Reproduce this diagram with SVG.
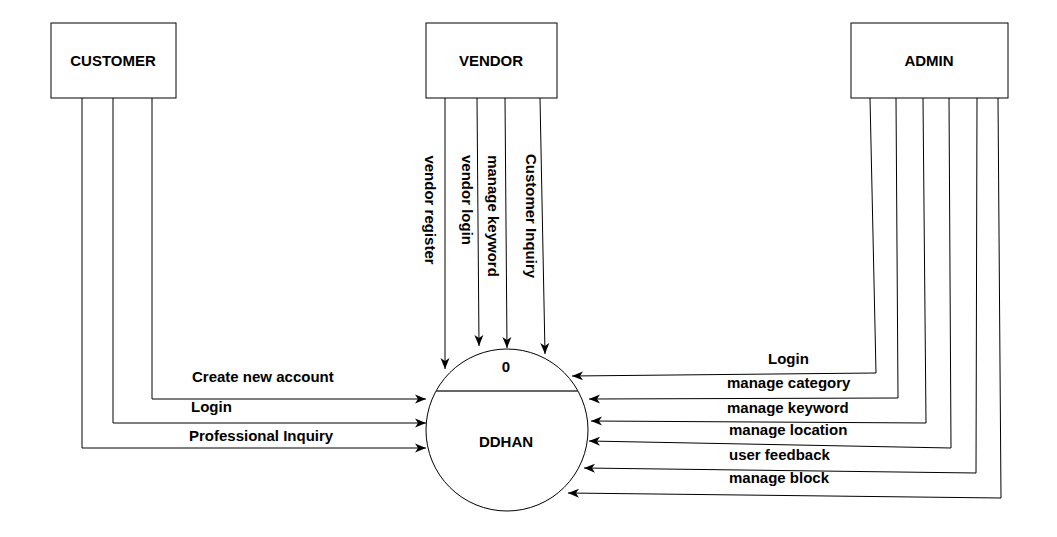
<svg xmlns="http://www.w3.org/2000/svg" width="1057" height="537" viewBox="0 0 1057 537">
<style>
.box{fill:#fff;stroke:#000;stroke-width:1}
.t{font-family:"Liberation Sans",Arial,sans-serif;font-weight:bold;font-size:15px;fill:#000}
.c{text-anchor:middle}
.e{fill:none;stroke:#000;stroke-width:1;marker-end:url(#arr)}
</style>
<defs>
<marker id="arr" markerUnits="userSpaceOnUse" markerWidth="12" markerHeight="10" refX="11" refY="5" orient="auto">
<path d="M0,0.5 L11,5 L0,9.5 L3,5 z" fill="#000"/>
</marker>
</defs>
<rect width="1057" height="537" fill="#fff"/>
<g id="customer"><rect class="box" x="51" y="23" width="125" height="75"/><text class="t c" x="113" y="66">CUSTOMER</text></g>
<g id="vendor"><rect class="box" x="426" y="23" width="131" height="75"/><text class="t c" x="491" y="66">VENDOR</text></g>
<g id="admin"><rect class="box" x="851" y="23" width="157" height="75"/><text class="t c" x="929" y="66">ADMIN</text></g>
<g id="process">
<circle cx="507" cy="430" r="81" fill="#fff" stroke="#000" stroke-width="1"/>
<line x1="436" y1="391" x2="578" y2="391" stroke="#333" stroke-width="1.5"/>
<text class="t c" x="506" y="372">0</text>
<text class="t c" x="506" y="447">DDHAN</text>
</g>
<g id="connectors">
<path class="e" d="M152,98 V399 H426"/>
<path class="e" d="M113,98 V423 H426"/>
<path class="e" d="M82,98 V448 H426"/>
<path class="e" d="M445,98 L445,369"/>
<path class="e" d="M477,98 L479,346"/>
<path class="e" d="M505,98 L507,348"/>
<path class="e" d="M540,98 L545,354"/>
<path class="e" d="M870,98 L876,373 L572,376"/>
<path class="e" d="M896,98 L898,398 L589,399"/>
<path class="e" d="M923,98 L926,423 L591,421"/>
<path class="e" d="M949,98 L951,448 L589,441"/>
<path class="e" d="M977,98 L976,473 L584,468"/>
<path class="e" d="M998,98 L1001,498 L568,493"/>
</g>
<g id="labels">
<text class="t" x="192" y="382">Create new account</text>
<text class="t" x="191" y="412">Login</text>
<text class="t" x="189" y="441">Professional Inquiry</text>
<text class="t c" transform="translate(430,210) rotate(90)" dominant-baseline="central">vendor register</text>
<text class="t c" transform="translate(467,200) rotate(90)" dominant-baseline="central">vendor login</text>
<text class="t c" transform="translate(493,216) rotate(90)" dominant-baseline="central">manage keyword</text>
<text class="t c" transform="translate(531,216) rotate(90)" dominant-baseline="central">Customer Inquiry</text>
<text class="t" x="768" y="364">Login</text>
<text class="t" x="727" y="388">manage category</text>
<text class="t" x="727" y="413">manage keyword</text>
<text class="t" x="729" y="435">manage location</text>
<text class="t" x="729" y="460">user feedback</text>
<text class="t" x="729" y="483">manage block</text>
</g>
</svg>
